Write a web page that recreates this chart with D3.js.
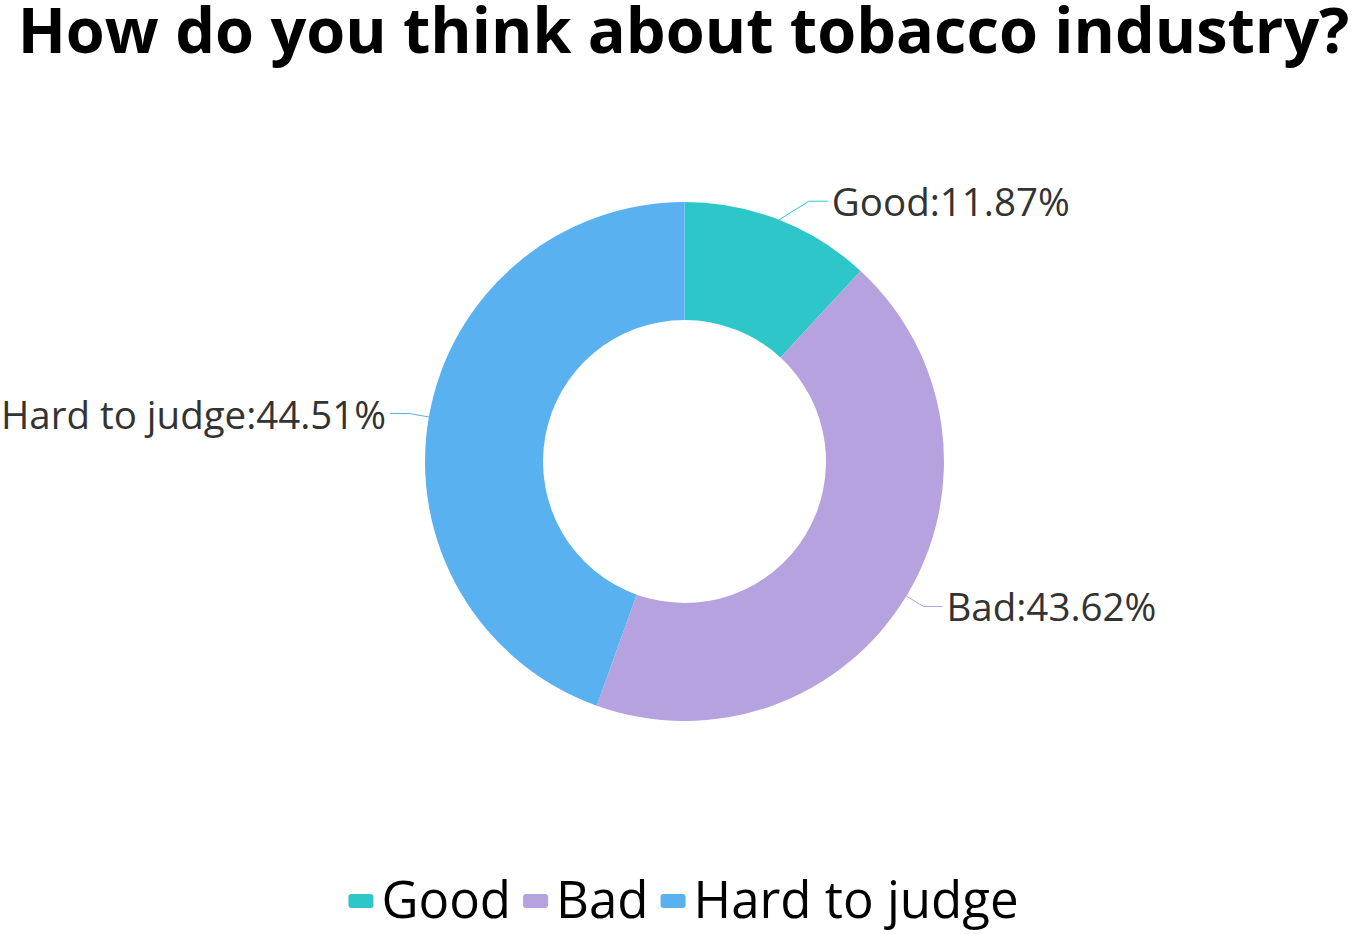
<!DOCTYPE html>
<html><head><meta charset="utf-8">
<script src="https://cdn.jsdelivr.net/npm/d3@7"></script>
<style>html,body{margin:0;padding:0;background:#fff;}svg{display:block;}</style>
</head><body>
<svg id="chart" width="1363" height="934"></svg>
<script>
const title = "How do you think about tobacco industry?";
const categories = ["Good", "Bad", "Hard to judge"];
const values = [11.87, 43.62, 44.51];
const colors = ["#2ec7c9", "#b6a2de", "#5ab1ef"];

const W = 1363, H = 934;
const svg = d3.select("#chart");
const font = "'Open Sans', 'Noto Sans', sans-serif";

const tt = svg.append("text").attr("x", W/2 + 2).attr("y", 53).attr("text-anchor", "middle")
  .attr("font-family", font).attr("font-weight", 700).attr("font-size", 63)
  .attr("fill", "#000").text(title);
const tw = tt.node().getComputedTextLength();
if (tw > 1352) tt.attr("textLength", 1352).attr("lengthAdjust", "spacingAndGlyphs");

const cx = 684.5, cy = 461.5, rOut = 259.5, rIn = 141.5;
const data = categories.map((c, i) => ({name: c, value: values[i], color: colors[i]}));
const pie = d3.pie().value(d => d.value).sort(null);
const arcs = pie(data);
const arc = d3.arc().innerRadius(rIn).outerRadius(rOut);
const g = svg.append("g").attr("transform", `translate(${cx},${cy})`);
g.selectAll("path.slice").data(arcs).join("path").attr("class", "slice")
  .attr("d", arc).attr("fill", d => d.data.color);

const len1 = 20, len2 = 19, maxSlope = Math.tan(32 * Math.PI / 180);
arcs.forEach(a => {
  const mid = (a.startAngle + a.endAngle) / 2;
  const sx = Math.sin(mid), sy = -Math.cos(mid);
  const dir = sx >= 0 ? 1 : -1;
  const p0 = [rOut * sx, rOut * sy];
  const ddy = len1 * sy;
  const ddx = Math.max(Math.abs(len1 * sx), Math.abs(ddy) / maxSlope);
  const p1 = [p0[0] + dir * ddx, p0[1] + ddy];
  const p2 = [p1[0] + dir * len2, p1[1]];
  g.append("polyline").attr("points", [p0, p1, p2].map(p => p.join(",")).join(" "))
    .attr("fill", "none").attr("stroke", a.data.color).attr("stroke-width", 1);
  const t = g.append("text").attr("x", p2[0] + dir * 4).attr("y", p2[1])
    .attr("text-anchor", dir > 0 ? "start" : "end").attr("dominant-baseline", "central")
    .attr("font-family", font).attr("font-size", 38.5).attr("fill", "#333")
    .text(`${a.data.name}:${a.data.value.toFixed(2)}%`);
  if (dir < 0) {
    const avail = cx + p2[0] - 4 - 1;
    if (t.node().getComputedTextLength() > avail) t.attr("textLength", avail).attr("lengthAdjust", "spacingAndGlyphs");
  }
});

// legend
const legend = svg.append("g");
const lfs = 51;
let x = 0;
data.forEach((d, i) => {
  const it = legend.append("g");
  it.append("rect").attr("x", x).attr("y", -7).attr("width", 25).attr("height", 14).attr("rx", 3)
    .attr("fill", d.color);
  const t = it.append("text").attr("x", x + 33).attr("y", 17)
    .attr("font-family", font).attr("font-size", lfs).attr("fill", "#000").text(d.name);
  x += 33 + t.node().getComputedTextLength() + 12;
});
const totalW = x - 12;
legend.attr("transform", `translate(${(W - totalW)/2 + 2},${901})`);
</script>
</body></html>
